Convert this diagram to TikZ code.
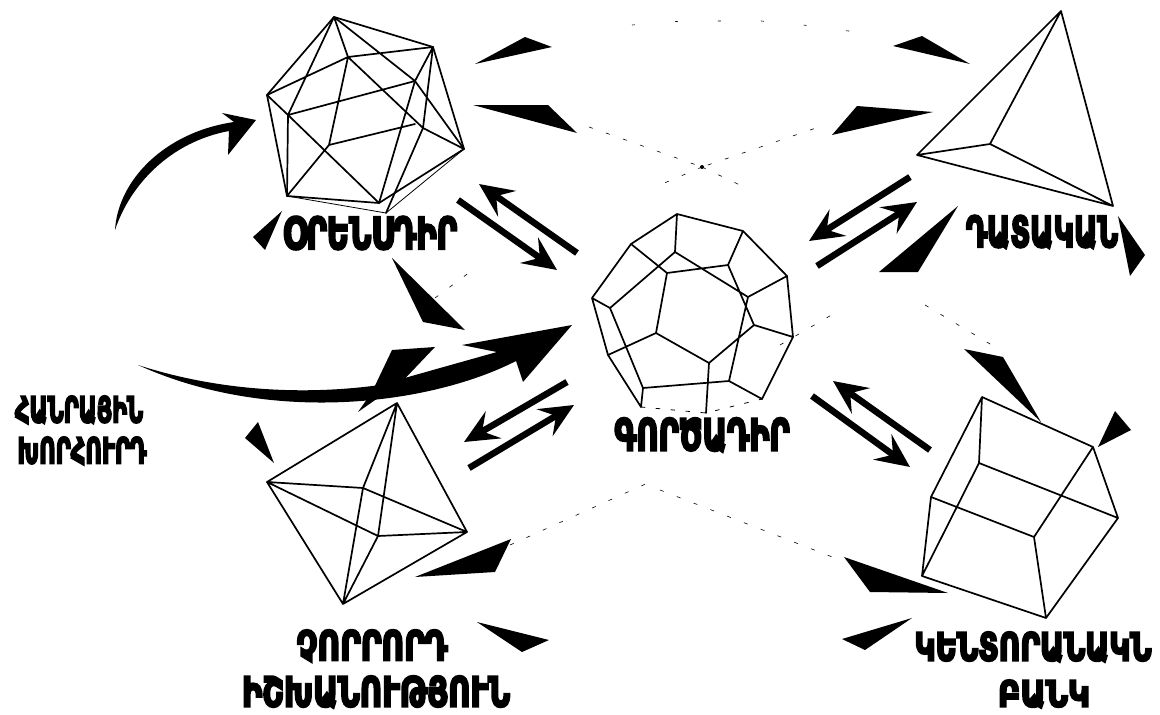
\documentclass[tikz,border=0pt]{standalone}
\usepackage{graphicx}
\usepackage{fontspec}
\usetikzlibrary{arrows.meta}
\newfontfamily\armfont[Script=Armenian,FakeBold=6]{DejaVu Sans Bold}
\newcommand{\armlabel}[3]{\resizebox*{#1}{#2}{\armfont #3}}
\begin{document}
\begin{tikzpicture}[x=1pt,y=-1pt,
  edge/.style={line width=1.7pt,line join=round,line cap=round},
  thinedge/.style={line width=.8pt,line cap=round},
  faint/.style={line width=.6pt,dash pattern=on 4pt off 14pt},
  barb/.style={-{Stealth[length=34pt,width=31pt,inset=13pt]},line width=6.5pt},
  shard/.style={fill=black},
  title/.style={inner sep=0pt,anchor=center}
]
\useasboundingbox (0,0) rectangle (1160,715);
% vertices
\foreach \n/\x/\y in {it/334/17,ira/433/47,irb/464/149,ib/386/213,ibm/379/203,ibl/287/196,il/267/95,
  ia/348/57,ic/415/81,id/288/115,ie/329/145,if/415/124,ig/423/128} \coordinate (\n) at (\x,\y);
\foreach \n/\x/\y in {da/677/214,db/743/231,dc/787/276,dd/793/337,de/762/399,df/729/381,dg/643/388,dh/610/308,
  di/592/298,dj/631/244,dk/675/252,dm/748/297,dn/728/265,do/667/273,dp/656/333,dq/608/355,dr/641/407,
  ds/709/363,dt/754/325,du/706/413} \coordinate (\n) at (\x,\y);
\foreach \n/\x/\y in {ot/397/403,or/467/532,ob/343/604,ol/267/482,oa/363/488,oc/378/536} \coordinate (\n) at (\x,\y);
\foreach \n/\x/\y in {ca/982/397,cb/1093/447,cc/1118/518,cd/1046/618,ce/922/576,cf/931/497,cg/979/463,ch/1034/537} \coordinate (\n) at (\x,\y);
\foreach \n/\x/\y in {tt/1061/11,tl/917/155,ti/990/144,tr/1113/206} \coordinate (\n) at (\x,\y);
% icosahedron
\draw[edge] (it)--(ira)--(irb) (irb)--(ibm)--(ibl)--(il)--(it);
\draw[thinedge] (irb)--(ib)--(ibl);
\draw[edge] (it)--(id) (it)--(ia) (it)--(ic)--(irb) (il)--(ia)--(ira) (ia)--(ie) (ia)--(ig)--(irb)
  (id)--(ic) (id)--(ibl) (id)--(ibm) (il)--(id) (ie)--(if) (ie)--(ibl) (ira)--(ic)--(ibm) (ira)--(ig)--(ib);
% dodecahedron
\draw[edge] (da)--(db)--(dc)--(dd)--(de)--(df)--(dg)--(dh)--(di)--(dj)--(da)
  (da)--(dk)--(dh) (dk)--(dm)--(dc) (db)--(dn)--(do)--(dj) (do)--(dp)--(dq)--(di) (dq)--(dr)--(dg)
  (dp)--(ds)--(dt)--(dd) (dn)--(dt) (dm)--(df) (ds)--(du);
\draw[thinedge,dash pattern=on 4pt off 11pt] (dr)--(du)--(de);
% octahedron
\draw[edge] (ot)--(or)--(ob)--(ol)--(ot) (ol)--(oa)--(or) (ol)--(oc)--(or) (oa)--(ot) (oc)--(ot) (oa)--(ob) (oc)--(ob);
% cube
\draw[edge] (ca)--(cb)--(cc)--(cd)--(ce)--(cf)--(ca)--(cg)--(cc) (cg)--(ce) (cf)--(ch)--(cb) (ch)--(cd);
% tetrahedron
\draw[edge] (tt)--(tl)--(ti)--(tt)--(tr)--(ti) (tl)--(tr);
% faint lines
\draw[faint] (589,127)--(702,167)--(816,128) (702,167)--(662,184) (702,167)--(742,186) (510,545)--(650,482) (660,490)--(840,560)
  (925,305)--(1000,350) (435,298)--(470,272) (780,345)--(840,310);
\draw[faint,dash pattern=on 3pt off 40pt] (632,25)--(683,21)--(761,21)--(813,26)--(870,34);
\fill[shard] (702,167) circle (2pt);
% labels
\node[title] (orenk) at (370,233) {\armlabel{174pt}{33pt}{ՕՐԵՆՍԴԻՐ}};
\node[title] (gortsk) at (702,435) {\armlabel{175pt}{34pt}{ԳՈՐԾԱԴԻՐ}};
\node[title] (datak) at (1042,232) {\armlabel{152pt}{33pt}{ԴԱՏԱԿԱՆ}};
\node[title] (kentr) at (1033,647) {\armlabel{237pt}{30pt}{ԿԵՆՏՈՐԱՆԱԿՆ}};
\node[title] (bank) at (1044,694) {\armlabel{92pt}{28pt}{ԲԱՆԿ}};
\node[title] (chorr) at (372,646) {\armlabel{151pt}{32pt}{ՉՈՐՐՈՐԴ}};
\node[title] (ishkh) at (376,692) {\armlabel{268pt}{32pt}{ԻՇԽԱՆՈՒԹՅՈՒՆ}};
\node[title] (hanr) at (79,410) {\armlabel{128pt}{28pt}{ՀԱՆՐԱՅԻՆ}};
\node[title] (khorh) at (82,451) {\armlabel{129pt}{28pt}{ԽՈՐՀՈՒՐԴ}};
% double arrows
\foreach \n/\x/\y in {ua/577/253,ub/479/184,uc/458/200,ud/557/270,
  ra/910/177,rb/809/241,rc/817/266,rd/917/202,
  sa/930/450,sb/833/381,sc/812/396,sd/910/467,
  wa/567/382,wb/464/442,wc/469/468,wd/574/405} \coordinate (\n) at (\x,\y);
\draw[barb] (ua)--(ub);
\draw[barb] (uc)--(ud);
\draw[barb] (ra)--(rb);
\draw[barb] (rc)--(rd);
\draw[barb] (sa)--(sb);
\draw[barb] (sc)--(sd);
\draw[barb] (wa)--(wb);
\draw[barb] (wc)--(wd);
% curved arrows
\fill (115,230) .. controls (118,180) and (165,132) .. (234,122) -- (222,113) -- (256,120) -- (228,155) -- (229,131)
  .. controls (170,142) and (130,185) .. (115,230) -- cycle;
\fill (138,365) .. controls (215,390) and (300,396) .. (380,385) -- (440,368) -- (497,352) -- (462,345) -- (572,325)
  -- (523,382) -- (516,361) .. controls (430,405) and (270,425) .. (138,365) -- cycle;
\fill[shard] (392,350)--(435,347)--(396,388)--(378,398)--(358,412)--(372,392)--cycle;
% black shards
\fill[shard] (475,64)--(525,37)--(552,47)--cycle;
\fill[shard] (473,105)--(548,105)--(577,133)--cycle;
\fill[shard] (282,211)--(265,250)--(253,237)--cycle;
\fill[shard] (392,258)--(465,330)--(423,322)--cycle;
\fill[shard] (258,422)--(274,463)--(245,438)--cycle;
\fill[shard] (511,539)--(495,572)--(415,577)--cycle;
\fill[shard] (477,622)--(549,640)--(522,652)--cycle;
\fill[shard] (964,349)--(1003,357)--(1041,422)--cycle;
\fill[shard] (1115,411)--(1131,430)--(1098,447)--cycle;
\fill[shard] (844,557)--(948,593)--(870,592)--cycle;
\fill[shard] (912,618)--(865,650)--(842,639)--cycle;
\fill[shard] (922,36)--(970,64)--(893,46)--cycle;
\fill[shard] (857,106)--(933,112)--(832,135)--cycle;
\fill[shard] (958,206)--(918,272)--(879,272)--cycle;
\fill[shard] (1118,216)--(1145,255)--(1130,276)--cycle;
\end{tikzpicture}
\end{document}
